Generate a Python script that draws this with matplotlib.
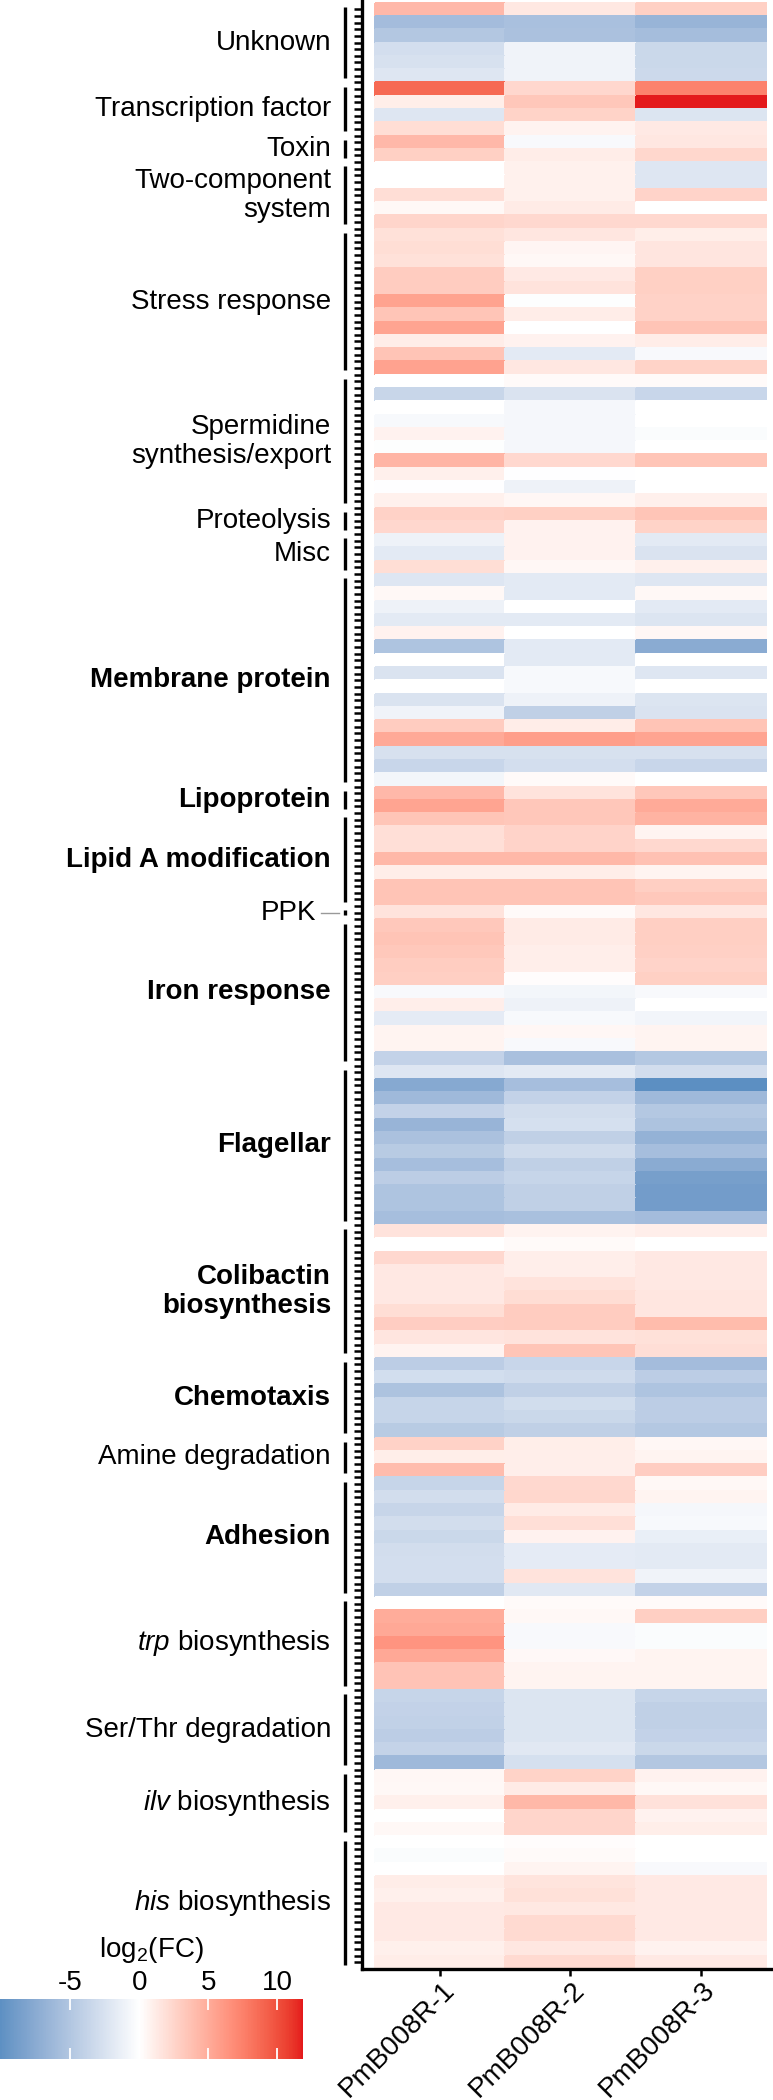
import numpy as np
import matplotlib
matplotlib.use('Agg')
import matplotlib.pyplot as plt
from matplotlib.colors import ListedColormap, Normalize, to_rgb
import matplotlib.transforms as mtransforms
from matplotlib.cm import ScalarMappable

plt.rcParams['font.family'] = ['Liberation Sans', 'DejaVu Sans']
plt.rcParams['mathtext.fontset'] = 'custom'
plt.rcParams['mathtext.rm'] = 'Liberation Sans'
plt.rcParams['mathtext.it'] = 'Liberation Sans:italic'
plt.rcParams['mathtext.bf'] = 'Liberation Sans:bold'
plt.rcParams['axes.unicode_minus'] = False

# ---------------- data ----------------
samples = ["PmB008R-1", "PmB008R-2", "PmB008R-3"]

rep1 = [4.25, -5.9, -4.95, -2.85, -2.6, -2.15,
        8.8, 1.05, -2.15, 2.0,
        4.25, 2.85,
        0, 0, 1.95, 0.45, 2.53,
        1.83, 2.0, 1.83, 3.1, 3.1, 5.55, 3.48, 5.45, 1.1, 3.54, 5.6,
        0, -3.6, 0, -0.55, 0.75, -0.1, 4.43, 0.9, -0.05, 0.85,
        2.72, 2.4,
        -1.1, -1.82, 2.0,
        -2.15, 0.45, -1.1, -1.82, 0.75, -5.2, 0, -2.45, 0, -2.45, -1.0, 3.1, 5.15, -2.6, -3.55, -0.75,
        4.24, 5.45,
        3.48, 1.9, 1.9, 4.3, 1.05, 3.54, 3.54,
        1.7,
        3.3, 3.54, 3.3, 3.04, 2.9, -0.5, 1.0, -1.7, 0.65, 0.65, -3.9,
        -2.15, -7.7, -6.2, -3.9, -6.65, -5.45, -4.6, -5.7, -4.4, -5.2, -5.2, -5.7,
        1.7, 0, 2.35, 1.35, 1.35, 1.35, 2.0, 2.97, 1.55, 0.7,
        -4.4, -2.9, -5.3, -3.7, -3.7, -4.6,
        2.7, 1.05, 4.0,
        -3.7, -2.95, -3.65, -2.95, -3.45, -2.95, -2.85, -2.85, -4.1,
        0, 5.0, 5.2, 6.35, 5.2, 3.6, 3.6,
        -3.7, -3.9, -4.0, -4.4, -3.8, -6.2,
        0.5, 0.45, 0.9, 0, 0.45,
        0, -0.3, 0, 1.1, 0.9, 1.32, 1.32, 1.32, 0.9, 1.1]

rep2 = [1.4, -5.55, -5.45, -1.0, -1.0, -1.0,
        2.4, 3.37, 2.65, 0.7,
        -0.5, 1.1,
        0.85, 0.85, 0.85, 1.2, 2.35,
        1.5, 0.6, 0.45, 1.3, 1.7, -0.1, 1.1, 0, 0.75, -1.82, 1.45,
        0.32, -2.45, -0.65, -0.65, -0.65, -0.65, 2.35, -0.05, -1.1, 0.5,
        2.85, 0.75,
        0.75, 0.75, 0.5,
        -1.82, -1.82, 0, -1.82, 0, -1.82, -1.82, -0.55, -0.55, -1.1, -4.1, 1.1, 5.8, -2.6, -2.85, 0.32,
        1.7, 3.37,
        3.37, 2.6, 2.6, 4.3, 1.05, 3.54, 3.54,
        0.32,
        1.2, 1.2, 1.0, 1.0, 0.15, -0.75, -1.1, -0.55, 0.5, -0.5, -5.55,
        -1.82, -5.7, -3.9, -2.95, -2.7, -4.1, -3.15, -4.1, -3.7, -4.1, -4.1, -5.55,
        0.7, 0.32, 1.0, 1.0, 1.7, 2.07, 3.1, 3.1, 1.7, 3.48,
        -3.55, -3.15, -4.1, -3.0, -3.45, -4.1,
        1.05, 1.0, 1.0,
        2.35, 2.45, 1.2, 1.9, 0.75, -1.7, -1.7, 1.7, -1.95,
        0.32, 0.45, -0.5, -0.5, 0.4, 0.65, 0.65,
        -2.3, -2.3, -2.3, -2.3, -1.95, -2.7,
        2.65, 1.2, 4.3, 2.53, 2.53,
        0.15, 0.32, 0.65, 1.64, 1.83, 1.4, 2.2, 2.2, 1.45, 2.2]

rep3 = [2.85, -6.65, -5.8, -3.45, -3.45, -3.3,
        7.4, 11.86, -2.3, 1.32,
        1.45, 2.45,
        -2.15, -2.15, 2.6, 0, 2.35,
        1.05, 1.55, 1.55, 2.85, 2.85, 2.72, 2.72, 3.54, 1.1, -0.5, 2.65,
        0.32, -3.55, 0, 0, -0.3, 0, 3.48, 0, 0, 0.9,
        3.48, 2.65,
        -1.82, -2.45, 0.9,
        -2.15, 0.45, -1.82, -2.3, 0.5, -7.5, 0, -2.15, 0, -2.3, -2.45, 3.54, 5.45, -2.6, -3.55, 0,
        3.37, 5.05,
        4.56, 0.65, 2.35, 3.74, 0.65, 2.9, 3.3,
        1.45,
        2.9, 2.9, 2.78, 2.6, 2.85, -0.5, 0, -0.85, 0.65, 0.65, -4.85,
        -2.95, -10.1, -6.2, -4.85, -5.3, -6.9, -5.7, -7.5, -8.65, -8.85, -8.85, -5.9,
        1.0, 0, 1.35, 1.35, 1.35, 1.5, 1.5, 4.05, 1.83, 1.95,
        -5.9, -4.4, -5.2, -4.4, -4.4, -4.85,
        0.5, 0.65, 2.97,
        0.45, 0.65, -0.65, -0.55, -1.4, -1.82, -1.82, -1.0, -3.9,
        0.32, 2.9, -0.3, -0.3, 0.65, 0.65, 0.65,
        -3.7, -4.1, -4.1, -3.9, -3.45, -4.95,
        0.75, 0.45, 1.77, 0.75, 1.05,
        0, 0, -0.5, 1.32, 1.32, 1.32, 1.32, 1.32, 0.75, 1.32]

group_names = ["Unknown", "Transcription factor", "Toxin", "Two-component\nsystem",
               "Stress response", "Spermidine\nsynthesis/export", "Proteolysis", "Misc",
               "Membrane protein", "Lipoprotein", "Lipid A modification", "PPK",
               "Iron response", "Flagellar", "Colibactin\nbiosynthesis", "Chemotaxis",
               "Amine degradation", "Adhesion", r"$\mathit{trp}$ biosynthesis",
               "Ser/Thr degradation", r"$\mathit{ilv}$ biosynthesis", r"$\mathit{his}$ biosynthesis"]
group_sizes = [6, 4, 2, 5, 11, 10, 2, 3, 16, 2, 7, 1, 11, 12, 10, 6, 3, 9, 7, 6, 5, 10]
group_bold = [False, False, False, False, False, False, False, False,
              True, True, True, False, True, True, True, True,
              False, True, False, False, False, False]

cbar_ticks = [-5, 0, 5, 10]
data_min, data_max = -10.1, 11.86

# ---------------- colour scale (Lab interpolation, ggplot gradient2 style) ----------------
M = np.array([[0.4124564, 0.3575761, 0.1804375],
              [0.2126729, 0.7151522, 0.0721750],
              [0.0193339, 0.1191920, 0.9503041]])
Minv = np.linalg.inv(M)
WHITE = np.array([0.95047, 1.0, 1.08883])


def to_lab(c):
    rgb = np.array(to_rgb(c))
    lin = np.where(rgb <= 0.04045, rgb / 12.92, ((rgb + 0.055) / 1.055) ** 2.4)
    r = (M @ lin) / WHITE
    d = 6 / 29
    f = np.where(r > d ** 3, np.cbrt(r), r / (3 * d * d) + 4 / 29)
    return np.array([116 * f[1] - 16, 500 * (f[0] - f[1]), 200 * (f[1] - f[2])])


def from_lab(lab):
    L, a, b = lab
    fy = (L + 16) / 116
    f = np.array([fy + a / 500, fy, fy - b / 200])
    d = 6 / 29
    r = np.where(f > d, f ** 3, 3 * d * d * (f - 4 / 29))
    lin = np.clip(Minv @ (r * WHITE), 0, 1)
    rgb = np.where(lin <= 0.0031308, 12.92 * lin, 1.055 * lin ** (1 / 2.4) - 0.055)
    return np.clip(rgb, 0, 1)


low, mid, high = to_lab("#377EB8"), to_lab("#FFFFFF"), to_lab("#E41A1C")
cols = []
for t in np.linspace(0, 1, 512):
    if t <= 0.5:
        s = t / 0.5
        cols.append(from_lab(low + (mid - low) * s))
    else:
        s = (t - 0.5) / 0.5
        cols.append(from_lab(mid + (high - mid) * s))
cmap = ListedColormap(cols)
lim = max(abs(data_min), abs(data_max))
norm = Normalize(-lim, lim)

# ---------------- figure ----------------
W, H = 773, 2100
fig = plt.figure(figsize=(W / 100, H / 100), dpi=100)

ax = fig.add_axes([362 / W, 131 / H, (W - 362) / W, 1969 / H])
mat = np.column_stack([rep1, rep2, rep3])
nrow = mat.shape[0]
ax.pcolormesh(np.arange(4), np.arange(nrow + 1), mat, cmap=cmap, norm=norm,
              edgecolors='face', linewidth=0.1)
ax.set_xlim(-0.1, 3.054)
ax.set_ylim(nrow, -0.2)
for s in ['top', 'right']:
    ax.spines[s].set_visible(False)
for s in ['left', 'bottom']:
    ax.spines[s].set_linewidth(2.4)
ax.set_yticks(np.arange(0.5, nrow, 0.5))
ax.set_yticklabels([])
ax.tick_params(axis='y', length=6, width=1.8, direction='out')
ax.set_xticks([0.5, 1.5, 2.5])
ax.set_xticklabels(samples, rotation=45, ha='right', va='top',
                   rotation_mode='anchor', fontsize=20)
ax.tick_params(axis='x', length=5, width=1.8, direction='out', pad=0.5)
off = mtransforms.ScaledTranslation(1 / 100, 0, fig.dpi_scale_trans)
for lbl in ax.get_xticklabels():
    lbl.set_transform(lbl.get_transform() + off)

# group brackets and labels
blend = mtransforms.blended_transform_factory(fig.transFigure, ax.transData)
xb = 345 / W
xl = 331 / W
start = 0
gap = 0.33
for name, n, bold in zip(group_names, group_sizes, group_bold):
    y0, y1 = start + gap, start + n - gap
    ax.plot([xb, xb], [y0, y1], color='black', lw=2.4, solid_capstyle='butt',
            transform=blend, clip_on=False)
    yc = start + n / 2
    if name == "PPK":
        ax.plot([321 / W, 339 / W], [yc, yc], color='#999999', lw=1.0,
                transform=blend, clip_on=False)
        ax.text(316 / W, yc, name, ha='right', va='center', fontsize=20,
                transform=blend, clip_on=False)
    else:
        ax.text(xl, yc, name, ha='right', va='center', fontsize=20,
                fontweight='bold' if bold else 'normal', linespacing=1.15,
                transform=blend, clip_on=False)
    start += n

# colour bar
cax = fig.add_axes([0, (H - 2059) / H, 303 / W, 60 / H])
sm = ScalarMappable(norm=norm, cmap=cmap)
cb = fig.colorbar(sm, cax=cax, orientation='horizontal',
                  boundaries=np.linspace(data_min, data_max, 400))
cb.outline.set_visible(False)
cb.set_ticks(cbar_ticks)
cb.set_ticklabels([str(t) for t in cbar_ticks])
cax.tick_params(axis='x', top=True, bottom=True, labeltop=True, labelbottom=False,
                direction='in', color='white', length=8, width=1.3,
                labelsize=20, pad=2)
fig.text(151 / W, 1 - 1950 / H, r"log$_2$(FC)", ha='center', va='center', fontsize=20)

fig.savefig("out.png", dpi=100)
